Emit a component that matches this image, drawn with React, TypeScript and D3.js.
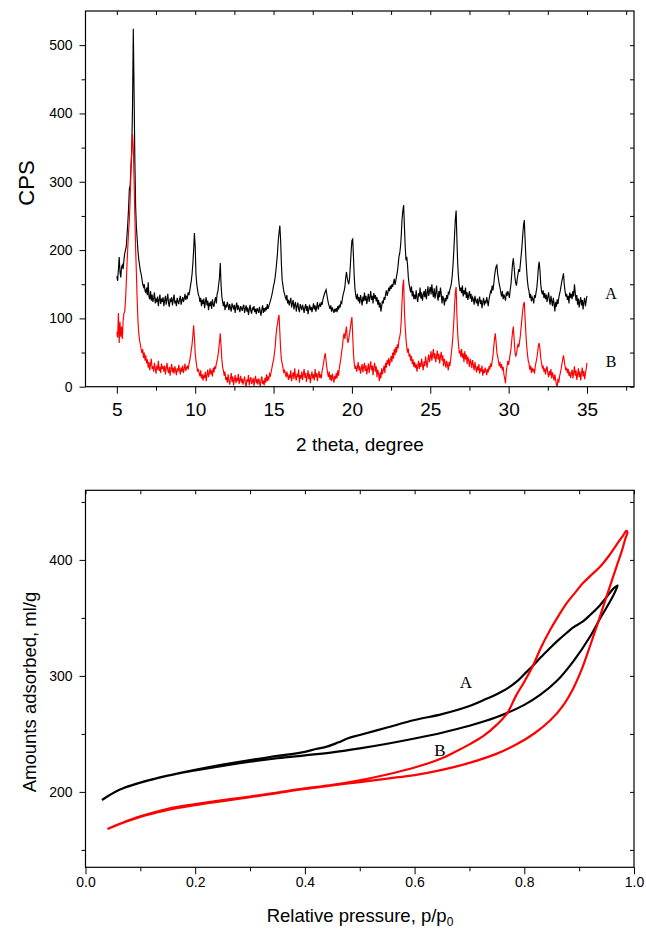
import React, { useEffect, useRef } from "react";
import * as d3 from "d3";

const WIDTH = 646;
const HEIGHT = 929;

// XRD counts (CPS), one row per degree starting at 5, sampled every 0.05 degree
const THETA_START = 5;
const THETA_STEP = 0.05;

const xrdA: number[][] = [
  [162, 155, 172, 190, 168, 160, 175, 178, 172, 185, 195, 200, 205, 222, 240, 262, 290, 294, 320, 345],
  [409, 524, 430, 330, 263, 232, 215, 198, 186, 178, 170, 165, 158, 150, 146, 150, 140, 138, 145, 134],
  [153, 132, 128, 140, 126, 135, 124, 130, 138, 122, 128, 125, 132, 118, 127, 135, 121, 129, 124, 131],
  [118, 126, 133, 120, 128, 136, 122, 117, 129, 124, 131, 119, 127, 135, 122, 126, 118, 130, 125, 121],
  [128, 133, 120, 126, 131, 124, 129, 136, 127, 132, 130, 138, 134, 140, 148, 155, 165, 180, 200, 225],
  [205, 165, 150, 142, 135, 132, 124, 130, 118, 127, 121, 129, 115, 124, 131, 119, 126, 112, 123, 118],
  [125, 114, 128, 120, 117, 126, 131, 122, 136, 140, 150, 160, 181, 150, 132, 124, 118, 125, 112, 120],
  [116, 124, 119, 112, 121, 115, 110, 122, 118, 113, 120, 108, 117, 123, 112, 119, 114, 109, 118, 115],
  [111, 117, 120, 108, 114, 119, 110, 116, 105, 113, 120, 111, 107, 116, 112, 118, 109, 114, 106, 115],
  [112, 108, 117, 110, 104, 113, 119, 108, 115, 110, 116, 112, 121, 114, 118, 122, 126, 130, 135, 141],
  [148, 152, 160, 170, 182, 195, 214, 225, 236, 215, 180, 156, 148, 140, 136, 131, 128, 134, 122, 127],
  [119, 125, 130, 116, 122, 127, 113, 120, 124, 110, 118, 123, 114, 109, 121, 117, 112, 120, 115, 108],
  [116, 121, 111, 118, 106, 114, 120, 112, 117, 109, 115, 122, 113, 119, 110, 116, 124, 113, 118, 121],
  [117, 124, 120, 128, 132, 136, 139, 142, 135, 128, 122, 118, 114, 119, 110, 116, 112, 108, 114, 110],
  [115, 109, 118, 113, 120, 116, 124, 122, 130, 136, 140, 146, 158, 168, 160, 154, 150, 158, 178, 198],
  [214, 216, 190, 160, 142, 133, 128, 136, 125, 131, 122, 134, 127, 119, 132, 125, 138, 126, 133, 121],
  [129, 136, 124, 131, 140, 127, 133, 122, 137, 129, 134, 125, 131, 120, 127, 116, 123, 110, 118, 126],
  [122, 131, 127, 136, 141, 133, 138, 145, 140, 148, 143, 150, 146, 152, 158, 149, 155, 162, 168, 178],
  [190, 195, 205, 222, 245, 258, 266, 235, 205, 185, 190, 178, 160, 150, 144, 138, 147, 132, 140, 128],
  [135, 128, 141, 130, 124, 137, 132, 145, 129, 138, 126, 134, 140, 131, 143, 128, 136, 147, 133, 140],
  [146, 135, 150, 138, 131, 144, 129, 137, 148, 133, 126, 140, 131, 145, 136, 122, 133, 128, 119, 130],
  [125, 134, 128, 138, 136, 142, 146, 152, 162, 178, 198, 222, 245, 258, 215, 180, 160, 148, 140, 145],
  [137, 148, 132, 141, 135, 145, 130, 138, 127, 134, 140, 129, 136, 124, 131, 128, 120, 133, 126, 122],
  [129, 118, 126, 132, 121, 127, 115, 124, 130, 119, 126, 122, 131, 125, 118, 128, 134, 140, 138, 148],
  [141, 150, 162, 170, 176, 178, 165, 158, 150, 145, 138, 132, 140, 128, 135, 131, 126, 138, 133, 140],
  [136, 130, 142, 150, 165, 180, 188, 175, 160, 152, 148, 158, 165, 172, 168, 180, 192, 205, 222, 236],
  [244, 215, 190, 170, 155, 145, 140, 130, 136, 125, 131, 128, 122, 134, 130, 138, 145, 158, 175, 183],
  [170, 150, 140, 135, 141, 130, 137, 128, 135, 124, 131, 138, 127, 120, 133, 125, 118, 130, 122, 110],
  [124, 117, 128, 121, 130, 136, 141, 148, 155, 160, 166, 150, 140, 132, 136, 127, 133, 122, 138, 130],
  [136, 128, 140, 132, 150, 138, 126, 134, 120, 129, 116, 125, 131, 119, 127, 113, 124, 130, 118, 126],
  [133],
];

const xrdB: number[][] = [
  [80, 72, 108, 64, 95, 73, 88, 70, 96, 107, 110, 125, 150, 180, 205, 228, 244, 275, 317, 345],
  [370, 350, 300, 250, 200, 165, 125, 95, 78, 68, 62, 55, 49, 55, 42, 50, 38, 46, 34, 40],
  [28, 36, 24, 33, 41, 26, 30, 22, 35, 27, 19, 31, 25, 38, 23, 29, 20, 34, 26, 30],
  [22, 31, 18, 27, 35, 24, 20, 29, 16, 26, 33, 21, 28, 19, 30, 24, 17, 27, 22, 32],
  [25, 18, 28, 22, 31, 20, 26, 34, 23, 28, 30, 25, 33, 38, 45, 54, 62, 75, 90, 72],
  [49, 38, 30, 22, 26, 20, 15, 24, 12, 18, 9, 16, 13, 22, 8, 17, 25, 14, 20, 27],
  [18, 24, 15, 28, 21, 30, 26, 34, 38, 45, 55, 65, 78, 60, 40, 28, 24, 16, 22, 10],
  [14, 6, 18, 9, 3, 12, 20, 7, 15, 2, 11, 17, 5, 13, 8, 19, 4, 10, 16, 6],
  [12, 3, 9, 15, 5, 0, 11, 7, 17, 2, 10, 14, 4, 8, 13, 1, 9, 16, 5, 11],
  [3, 12, 7, 0, 10, 15, 4, 9, 2, 13, 6, 18, 8, 14, 11, 19, 16, 22, 28, 35],
  [39, 48, 58, 73, 85, 92, 100, 105, 80, 55, 40, 34, 28, 20, 25, 19, 14, 22, 16, 10],
  [18, 12, 24, 8, 16, 21, 11, 27, 15, 9, 19, 14, 25, 6, 17, 12, 22, 10, 18, 26],
  [13, 20, 7, 16, 24, 11, 19, 5, 15, 22, 12, 18, 9, 26, 14, 20, 8, 17, 23, 13],
  [18, 12, 24, 29, 36, 44, 49, 38, 28, 20, 14, 22, 10, 17, 8, 19, 13, 6, 16, 11],
  [20, 12, 24, 16, 28, 35, 42, 52, 60, 72, 78, 70, 80, 88, 72, 64, 70, 78, 86, 95],
  [102, 75, 48, 34, 26, 31, 22, 28, 36, 24, 30, 19, 27, 33, 21, 29, 35, 23, 31, 18],
  [26, 34, 20, 29, 37, 24, 31, 17, 28, 35, 22, 30, 14, 25, 19, 8, 21, 12, 27, 18],
  [24, 31, 20, 35, 28, 39, 33, 42, 30, 38, 45, 36, 50, 41, 55, 46, 58, 50, 62, 56],
  [68, 73, 80, 98, 125, 148, 157, 110, 88, 70, 58, 50, 56, 44, 48, 38, 45, 33, 40, 29],
  [36, 27, 33, 22, 30, 38, 26, 35, 29, 41, 32, 24, 37, 30, 44, 35, 28, 40, 47, 36],
  [43, 52, 38, 47, 55, 41, 49, 36, 45, 53, 40, 48, 34, 44, 51, 38, 46, 30, 41, 35],
  [28, 38, 31, 24, 36, 30, 40, 50, 62, 76, 95, 118, 138, 146, 105, 78, 62, 50, 52, 44],
  [55, 42, 49, 36, 52, 40, 47, 33, 44, 38, 29, 41, 35, 27, 39, 31, 24, 36, 28, 21],
  [30, 24, 33, 19, 27, 22, 31, 16, 25, 20, 28, 23, 17, 26, 21, 30, 25, 34, 29, 38],
  [45, 58, 70, 78, 65, 50, 44, 38, 30, 36, 27, 33, 24, 29, 18, 12, 5, 22, 30, 38],
  [32, 40, 48, 55, 68, 80, 88, 70, 52, 44, 48, 56, 63, 58, 66, 75, 88, 100, 112, 120],
  [124, 100, 78, 60, 48, 38, 34, 25, 31, 20, 28, 22, 26, 19, 30, 36, 42, 50, 60, 64],
  [55, 42, 34, 28, 31, 22, 27, 18, 25, 30, 20, 14, 23, 17, 26, 12, 21, 15, 9, 18],
  [10, 3, 0, 12, 6, 15, 20, 26, 33, 40, 46, 38, 30, 24, 28, 20, 26, 16, 22, 13],
  [19, 25, 12, 21, 30, 16, 24, 10, 18, 27, 14, 22, 9, 20, 28, 15, 23, 11, 19, 26],
  [35],
];

const xrdXTicks = [5, 10, 15, 20, 25, 30, 35];
const xrdXMinor = [7.5, 12.5, 17.5, 22.5, 27.5, 32.5, 37.5];
const xrdYTicks = [0, 100, 200, 300, 400, 500];
const xrdYMinor = [50, 150, 250, 350, 450];

// N2 isotherms: adsorption branch then desorption branch (p/p0, ml/g)
const isoA_ads_p = [0.03, 0.045, 0.06, 0.08, 0.1, 0.15, 0.2, 0.25, 0.3, 0.35, 0.4, 0.45, 0.5, 0.55, 0.6, 0.65, 0.7, 0.75, 0.8, 0.83, 0.86, 0.89, 0.92, 0.94, 0.955, 0.965, 0.97];
const isoA_ads_v = [193, 197.5, 201.5, 205, 208, 214, 218.5, 222.5, 226, 229, 231.5, 234, 237.5, 241.5, 246, 251, 257, 264.5, 275, 284, 296, 313, 334, 351, 363, 372, 378];
const isoA_des_p = [0.962, 0.95, 0.938, 0.92, 0.907, 0.89, 0.877, 0.86, 0.847, 0.83, 0.816, 0.8, 0.786, 0.77, 0.755, 0.73, 0.7, 0.65, 0.6, 0.55, 0.5, 0.48, 0.46, 0.44, 0.42, 0.4, 0.35, 0.3, 0.25, 0.2, 0.15, 0.1, 0.07];
const isoA_des_v = [375, 368, 361, 352.5, 347, 342, 337, 330, 324, 316, 309, 301.5, 295, 289.5, 285.5, 280, 274, 267, 262, 255.5, 249, 246.5, 242.5, 239, 237, 234.5, 231, 227.5, 223.5, 219, 214, 208, 203.5];

const isoB_ads_p = [0.04, 0.06, 0.09, 0.12, 0.15, 0.2, 0.25, 0.3, 0.35, 0.4, 0.45, 0.5, 0.55, 0.6, 0.65, 0.7, 0.75, 0.786, 0.82, 0.847, 0.87, 0.889, 0.905, 0.92, 0.933, 0.944, 0.956, 0.968, 0.978, 0.984, 0.988];
const isoB_ads_v = [168, 172, 177, 181, 184.5, 188.5, 192, 195.5, 199, 202.5, 205.5, 208.5, 211.5, 214.5, 219, 225, 233, 241, 251, 261.5, 274, 289, 306, 326, 344, 360, 377, 394, 408, 418, 424];
const isoB_des_p = [0.986, 0.98, 0.968, 0.955, 0.938, 0.92, 0.907, 0.893, 0.877, 0.86, 0.847, 0.83, 0.816, 0.8, 0.785, 0.769, 0.75, 0.725, 0.7, 0.676, 0.65, 0.6, 0.55, 0.5, 0.45, 0.4, 0.35, 0.3, 0.25, 0.2, 0.15, 0.1, 0.07];
const isoB_des_v = [425, 421, 413, 404, 394, 386, 380, 372, 362.5, 350, 339.5, 324, 309, 295, 283, 268, 258, 248, 241, 235, 229, 221, 215, 210, 206, 203, 199.5, 196, 193, 189.5, 185.5, 179, 174];

const isoXTicks = [0, 0.2, 0.4, 0.6, 0.8, 1.0];
const isoXMinor = [0.1, 0.3, 0.5, 0.7, 0.9];
const isoYTicks = [200, 300, 400];
const isoYMinor = [150, 250, 350, 450];

const SANS = "'Liberation Sans', Arial, sans-serif";
const SERIF = "'Liberation Serif', 'Times New Roman', serif";

function flattenXrd(rows: number[][]) {
  const pts: [number, number][] = [];
  rows.forEach((row, r) => {
    row.forEach((v, j) => pts.push([THETA_START + r + j * THETA_STEP, v]));
  });
  return pts;
}

function zipIso(ap: number[], av: number[], dp: number[], dv: number[]) {
  const pts: [number, number][] = ap.map((p, i) => [p, av[i]]);
  dp.forEach((p, i) => pts.push([p, dv[i]]));
  return pts;
}

function drawFrame(g: any, x: any, y: any, o: any) {
  const [xl, xr] = x.range();
  const [yb, yt] = y.range();

  const style = (a: any) => {
    a.select(".domain").remove();
    a.selectAll("line").attr("stroke", "#000").attr("stroke-width", 1);
    a.selectAll("text").attr("fill", "#000");
    a.attr("font-family", SANS);
  };

  g.append("g").attr("transform", `translate(0,${yb})`)
    .call(d3.axisBottom(x).tickValues(o.xMajor).tickSize(7).tickPadding(o.xPad).tickFormat(o.xFmt))
    .call(style).attr("font-size", o.xFont);
  g.append("g").attr("transform", `translate(0,${yb})`)
    .call(d3.axisBottom(x).tickValues(o.xMinor).tickSize(4).tickFormat(() => ""))
    .call(style);

  g.append("g").attr("transform", `translate(${xl},0)`)
    .call(d3.axisLeft(y).tickValues(o.yMajor).tickSize(6).tickPadding(7).tickFormat(d3.format("d")))
    .call(style).attr("font-size", o.yFont);
  g.append("g").attr("transform", `translate(${xl},0)`)
    .call(d3.axisLeft(y).tickValues(o.yMinor).tickSize(4).tickFormat(() => ""))
    .call(style);

  // mirrored inner ticks on top and right
  g.append("g").attr("transform", `translate(0,${yt})`)
    .call(d3.axisTop(x).tickValues(o.xMajor.concat(o.xMinor)).tickSize(-4).tickFormat(() => ""))
    .call(style);
  g.append("g").attr("transform", `translate(${xr},0)`)
    .call(d3.axisRight(y).tickValues(o.yMajor.concat(o.yMinor)).tickSize(-4).tickFormat(() => ""))
    .call(style);

  g.append("rect")
    .attr("x", xl).attr("y", yt)
    .attr("width", xr - xl).attr("height", yb - yt)
    .attr("fill", "none").attr("stroke", "#000").attr("stroke-width", 1.2);
}

function drawXrd(g: any) {
  const x = d3.scaleLinear().domain([3, 38]).range([85.5, 634]);
  const y = d3.scaleLinear().domain([0, 550]).range([386.7, 11]);

  const line = d3.line<[number, number]>().x(d => x(d[0])).y(d => y(d[1]));

  g.append("path").attr("d", line(flattenXrd(xrdA)))
    .attr("fill", "none").attr("stroke", "#000").attr("stroke-width", 1.15);
  g.append("path").attr("d", line(flattenXrd(xrdB)))
    .attr("fill", "none").attr("stroke", "#ff0000").attr("stroke-width", 1.15);

  drawFrame(g, x, y, {
    xMajor: xrdXTicks, xMinor: xrdXMinor, yMajor: xrdYTicks, yMinor: xrdYMinor,
    xFmt: d3.format("d"), xPad: 9, xFont: 19, yFont: 14,
  });

  g.append("text").attr("x", 360).attr("y", 451)
    .attr("text-anchor", "middle").attr("font-family", SANS).attr("font-size", 19)
    .text("2 theta, degree");
  g.append("text").attr("transform", "translate(34,183) rotate(-90)")
    .attr("text-anchor", "middle").attr("font-family", SANS).attr("font-size", 22)
    .text("CPS");

  g.append("text").attr("x", 611).attr("y", 299).attr("text-anchor", "middle")
    .attr("font-family", SERIF).attr("font-size", 16).text("A");
  g.append("text").attr("x", 611).attr("y", 367).attr("text-anchor", "middle")
    .attr("font-family", SERIF).attr("font-size", 16).text("B");
}

function drawIsotherm(g: any) {
  const x = d3.scaleLinear().domain([0, 1]).range([85.5, 634]);
  const y = d3.scaleLinear().domain([135, 460]).range([867.3, 490.3]);

  const line = d3.line<[number, number]>()
    .x(d => x(d[0])).y(d => y(d[1]))
    .curve(d3.curveCatmullRom.alpha(0.5));

  g.append("path").attr("d", line(zipIso(isoA_ads_p, isoA_ads_v, isoA_des_p, isoA_des_v)))
    .attr("fill", "none").attr("stroke", "#000").attr("stroke-width", 2.2).attr("stroke-linejoin", "round");
  g.append("path").attr("d", line(zipIso(isoB_ads_p, isoB_ads_v, isoB_des_p, isoB_des_v)))
    .attr("fill", "none").attr("stroke", "#ff0000").attr("stroke-width", 2.2).attr("stroke-linejoin", "round");

  drawFrame(g, x, y, {
    xMajor: isoXTicks, xMinor: isoXMinor, yMajor: isoYTicks, yMinor: isoYMinor,
    xFmt: d3.format(".1f"), xPad: 3, xFont: 14, yFont: 14,
  });

  const title = g.append("text").attr("x", 360).attr("y", 922)
    .attr("text-anchor", "middle").attr("font-family", SANS).attr("font-size", 18.5);
  title.append("tspan").text("Relative pressure, p/p");
  title.append("tspan").attr("font-size", 12).attr("dy", 4).text("0");

  g.append("text").attr("transform", "translate(36,692) rotate(-90)")
    .attr("text-anchor", "middle").attr("font-family", SANS).attr("font-size", 18.5)
    .text("Amounts adsorbed, ml/g");

  g.append("text").attr("x", 466).attr("y", 688).attr("text-anchor", "middle")
    .attr("font-family", SERIF).attr("font-size", 17).text("A");
  g.append("text").attr("x", 440).attr("y", 756).attr("text-anchor", "middle")
    .attr("font-family", SERIF).attr("font-size", 17).text("B");
}

export default function App() {
  const svgRef = useRef<SVGSVGElement>(null);

  useEffect(() => {
    const svg = d3.select(svgRef.current);
    svg.selectAll("*").remove();
    drawXrd(svg.append("g"));
    drawIsotherm(svg.append("g"));
  }, []);

  return (
    <svg
      ref={svgRef}
      width={WIDTH}
      height={HEIGHT}
      style={{ position: "absolute", left: 0, top: 0, background: "#fff" }}
    />
  );
}
